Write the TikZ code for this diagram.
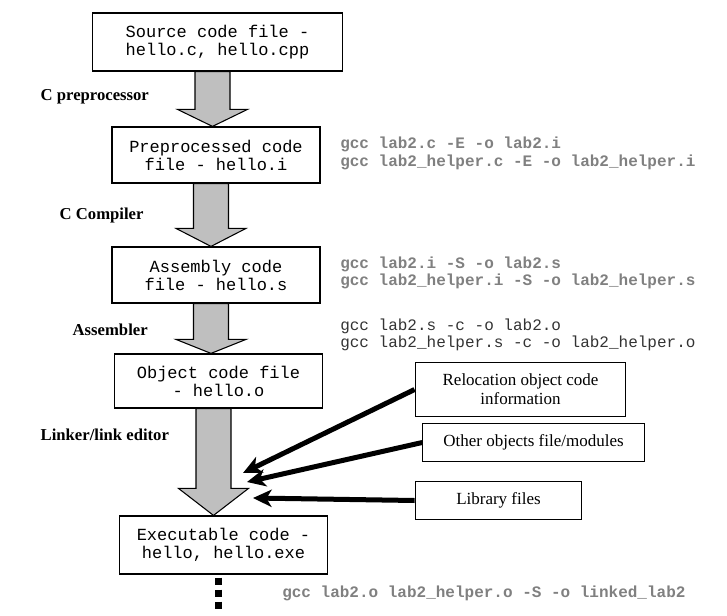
\documentclass[tikz,border=0pt]{standalone}
\usepackage{fontspec}
\setmainfont{Liberation Serif}
\setmonofont{Liberation Mono}
\usepackage{xcolor}
\usepackage{tikz}
\usetikzlibrary{arrows.meta,positioning,calc}
\tikzstyle{file}=[draw=black, line width=0.9pt, fill=white, align=center,
  font=\fontsize{12.75}{13.5}\selectfont\ttfamily, minimum width=156pt, minimum height=42pt, inner sep=2pt]
\tikzstyle{extra}=[draw=black, line width=0.9pt, fill=white, align=center,
  font=\fontsize{12.75}{14.25}\selectfont, inner sep=2pt]
\tikzstyle{bigarr}=[draw=black, line width=0.8pt, fill=black!25]
\tikzstyle{link}=[-{Stealth[length=14pt,width=13pt,inset=4pt]}, line width=3.75pt]
\newcommand{\bigarrow}[3]{%
  \coordinate (#1-top) at ($(#1.south)+(-5,0)$);
  \coordinate (#1-tip) at (#1-top |- #2.north);
  \draw[bigarr] ($(#1-top)+(-17.5,0)$) -- ($(#1-tip)+(-17.5,-#3)$) -- ($(#1-tip)+(-35,-#3)$)
    -- (#1-tip) -- ($(#1-tip)+(35,-#3)$) -- ($(#1-tip)+(17.5,-#3)$) -- ($(#1-top)+(17.5,0)$) -- cycle;}

\begin{document}
\begin{tikzpicture}[x=0.75pt, y=-0.75pt,
  stage/.style={anchor=west, font=\fontsize{12.5}{14}\selectfont\bfseries},
  cmd/.style={anchor=west, align=left, inner sep=0pt, text=black!50,
              font=\fontsize{12}{13}\selectfont\ttfamily\bfseries},
  cmddark/.style={cmd, text=black!80, font=\fontsize{12}{13}\selectfont\ttfamily}]
\useasboundingbox (0,0) rectangle (727,616);
\node[file, minimum width=188pt, minimum height=43.5pt] (src) at (217.5,42) {Source code file -\\hello.c, hello.cpp};
\node[file] (pre) at (216,155) {Preprocessed code\\file - hello.i};
\node[file] (asm) at (216,275) {Assembly code\\file - hello.s};
\node[file, minimum height=40.5pt] (obj) at (218.5,381) {Object code file\\- hello.o};
\node[file, minimum height=43.5pt] (exe) at (223.5,545) {Executable code -\\hello, hello.exe};
\node[stage] (cpp) at (36,97) {C preprocessor};
\node[stage] (cc)  at (55,215) {C Compiler};
\node[stage] (as)  at (68,330) {Assembler};
\node[stage] (ld)  at (36,435) {Linker/link editor};
\node[cmd] (gcc1) at (340,153.5) {gcc lab2.c -E -o lab2.i\\gcc lab2\_helper.c -E -o lab2\_helper.i};
\node[cmd] (gcc2) at (340,273) {gcc lab2.i -S -o lab2.s\\gcc lab2\_helper.i -S -o lab2\_helper.s};
\node[cmddark] (gcc3) at (340,335) {gcc lab2.s -c -o lab2.o\\gcc lab2\_helper.s -c -o lab2\_helper.o};
\node[cmd] (gcc4) at (282,593) {gcc lab2.o lab2\_helper.o -S -o linked\_lab2};
\node[extra, minimum width=158pt, minimum height=41pt] (reloc) at (520.5,389.5) {Relocation object code\\information};
\node[extra, minimum width=166pt, minimum height=29pt] (other) at (533.5,442.5) {Other objects file/modules};
\node[extra, minimum width=125pt, minimum height=28pt] (lib) at (498.5,500.5) {Library files};
\bigarrow{src}{pre}{17}
\bigarrow{pre}{asm}{18}
\bigarrow{asm}{obj}{14}
\bigarrow{obj}{exe}{27}
\coordinate (lk1) at (243,473);
\coordinate (lk2) at (247,482);
\coordinate (lk3) at (253,498);
\draw[link] (reloc.west) -- (lk1);
\draw[link] (other.west) -- (lk2);
\draw[link] (lib.west) -- (lk3);
\coordinate (dots) at (218,610);
\draw[line width=5.25pt, dash pattern=on 5.25pt off 3.75pt] ($(exe.south -| dots)+(0,3)$) -- (dots);
\end{tikzpicture}
\end{document}
